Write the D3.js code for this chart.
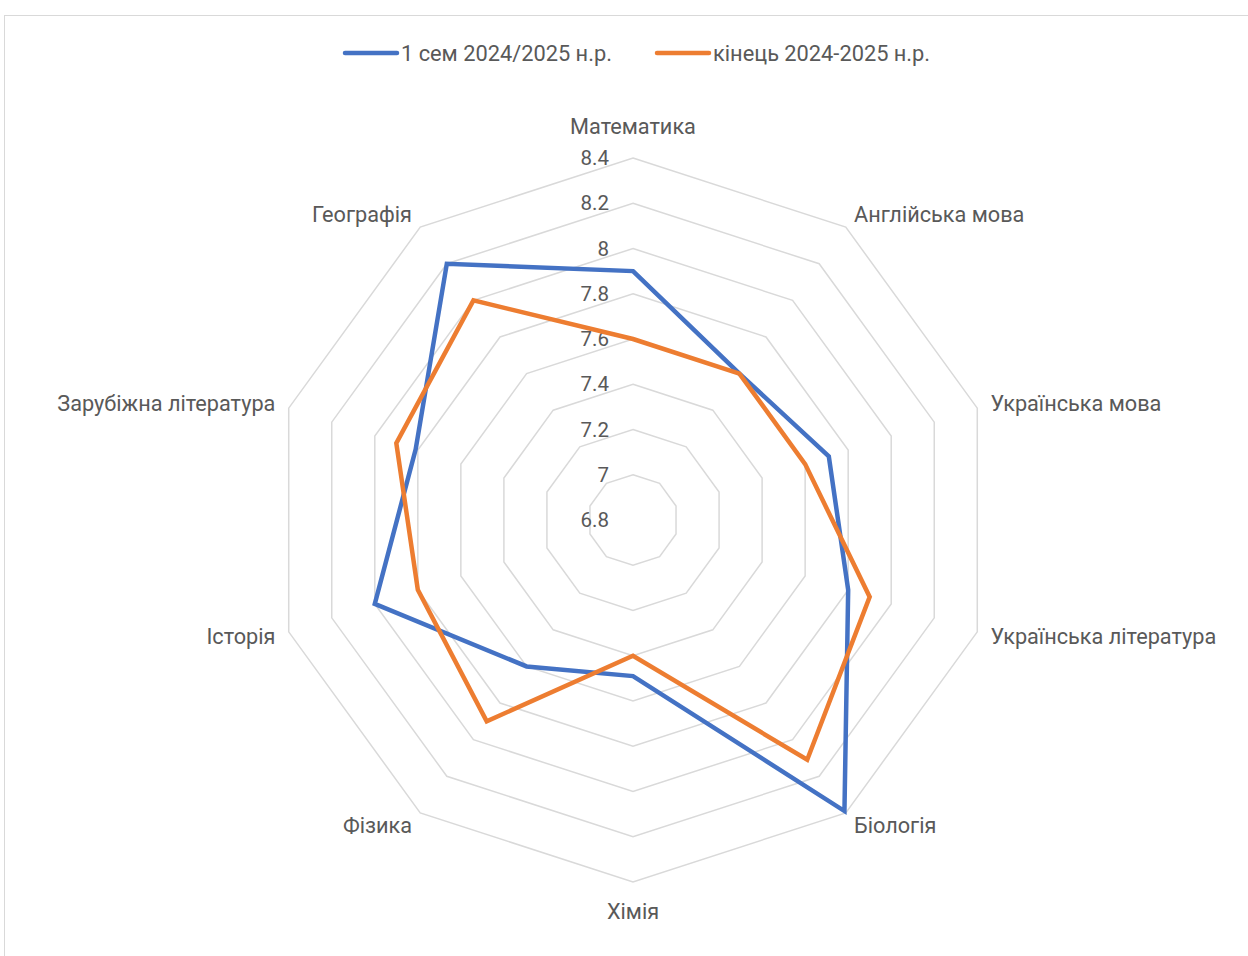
<!DOCTYPE html>
<html>
<head>
  <meta charset="utf-8">
  <script src="https://d3js.org/d3.v7.min.js"></script>
  <style>
    body { margin: 0; background: #fff; }
    text { font-family: Roboto, "Noto Sans", sans-serif; fill: #595959; }
  </style>
</head>
<body>
<script>
  // subjects, clockwise from the top
  var subjects = ["Математика", "Англійська мова", "Українська мова", "Українська література",
                  "Біологія", "Хімія", "Фізика", "Історія", "Зарубіжна література", "Географія"];
  var semester1 = [7.9, 7.6, 7.71, 7.8, 8.39, 7.49, 7.6, 8.0, 7.81, 8.2];
  var yearEnd   = [7.6, 7.6, 7.6, 7.9, 8.11, 7.4, 7.9, 7.8, 7.9, 8.0];
  var seriesNames = ["1 сем 2024/2025 н.р.", "кінець 2024-2025 н.р."];
  var ticks = [6.8, 7, 7.2, 7.4, 7.6, 7.8, 8, 8.2, 8.4];

  var width = 1248, height = 956,
      cx = 633, cy = 520;

  var svg = d3.select("body").append("svg")
      .attr("width", width)
      .attr("height", height);

  // chart area border
  svg.append("rect")
      .attr("x", 4.5).attr("y", 15.5)
      .attr("width", width + 20).attr("height", height + 20)
      .attr("fill", "none").attr("stroke", "#d9d9d9").attr("stroke-width", 1);

  var r = d3.scaleLinear().domain([6.8, 8.4]).range([0, 362]);
  var angle = function (i) { return i * 2 * Math.PI / subjects.length; };
  var pt = function (v, i) {
    return [cx + r(v) * Math.sin(angle(i)), cy - r(v) * Math.cos(angle(i))];
  };

  var g = svg.append("g");

  // grid rings (decagons)
  g.selectAll(".ring")
    .data(ticks.slice(1))
    .enter().append("polygon")
      .attr("points", function (t) {
        return subjects.map(function (s, i) { return pt(t, i).join(","); }).join(" ");
      })
      .attr("fill", "none")
      .attr("stroke", "#d9d9d9")
      .attr("stroke-width", 1.5);

  // tick labels
  g.selectAll(".tick")
    .data(ticks)
    .enter().append("text")
      .attr("x", cx - 24)
      .attr("y", function (t) { return cy - r(t); })
      .attr("dy", "0.35em")
      .attr("text-anchor", "end")
      .style("font-size", "20.5px")
      .text(function (t) { return t; });

  // subject labels
  g.selectAll(".label")
    .data(subjects)
    .enter().append("text")
      .attr("x", function (d, i) { return cx + 376 * Math.sin(angle(i)); })
      .attr("y", function (d, i) {
        var c = Math.cos(angle(i));
        if (c > 0.99) return cy - 394;
        if (c < -0.99) return cy + 391;
        return cy - 378 * c;
      })
      .attr("dy", "0.35em")
      .attr("text-anchor", function (d, i) {
        var s = Math.sin(angle(i));
        return Math.abs(s) < 0.01 ? "middle" : (s > 0 ? "start" : "end");
      })
      .style("font-size", "21.7px")
      .text(function (d) { return d; });

  var colors = ["#4472C4", "#ED7D31"];
  var line = d3.lineRadial()
      .angle(function (d, i) { return angle(i); })
      .radius(function (d) { return r(d); })
      .curve(d3.curveLinearClosed);

  g.selectAll(".series")
    .data([semester1, yearEnd])
    .enter().append("path")
      .attr("transform", "translate(" + cx + "," + cy + ")")
      .attr("d", line)
      .attr("fill", "none")
      .attr("stroke", function (d, i) { return colors[i]; })
      .attr("stroke-width", 4.5)
      .attr("stroke-linejoin", "miter");

  // legend
  var legendX = [345, 657];
  var lg = svg.selectAll(".legend")
    .data(seriesNames)
    .enter().append("g")
      .attr("transform", function (d, i) { return "translate(" + legendX[i] + ",53)"; });
  lg.append("line")
      .attr("x1", 0).attr("x2", 52)
      .attr("stroke", function (d, i) { return colors[i]; })
      .attr("stroke-width", 4.5)
      .attr("stroke-linecap", "round");
  lg.append("text")
      .attr("x", 56)
      .attr("dy", "0.35em")
      .style("font-size", "21.8px")
      .text(function (d) { return d; });
</script>
</body>
</html>
